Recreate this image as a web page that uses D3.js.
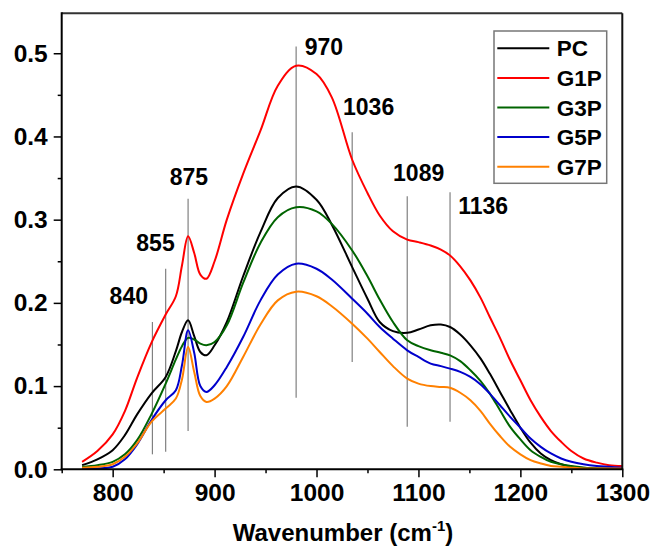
<!DOCTYPE html>
<html>
<head>
<meta charset="utf-8">
<script src="https://cdn.jsdelivr.net/npm/d3@7/dist/d3.min.js"></script>
<style>
  html, body { margin: 0; padding: 0; background: #fff; }
  svg { display: block; }
  text { font-family: "Liberation Sans", Arial, Helvetica, sans-serif; font-weight: bold; fill: #000; }
</style>
</head>
<body>
<svg id="chart" width="652" height="549"></svg>
<script>
// ---- data ----
const wavenumbers = [770, 785, 800, 812, 824, 838, 852, 862, 868, 874, 880, 886, 892, 900, 912, 928, 945, 962, 980,
  1000, 1015, 1035, 1050, 1062, 1075, 1089, 1100, 1112, 1122, 1131, 1141, 1151, 1161, 1170, 1180, 1190, 1200,
  1210, 1220, 1230, 1240, 1250, 1262, 1275, 1287, 1300];

const seriesNames = ["PC", "G1P", "G3P", "G5P", "G7P"];
const seriesColors = ["#000000", "#ff0000", "#006400", "#0000cc", "#ff8000"];

const PC = [0.005, 0.012, 0.023, 0.041, 0.066, 0.091, 0.111, 0.142, 0.165, 0.179, 0.160, 0.141, 0.137, 0.149, 0.177, 0.232, 0.285, 0.326, 0.340,
  0.324, 0.294, 0.243, 0.205, 0.177, 0.166, 0.164, 0.168, 0.173, 0.174, 0.171, 0.162, 0.149, 0.133, 0.115, 0.093, 0.071, 0.050,
  0.032, 0.019, 0.011, 0.006, 0.003, 0.002, 0.001, 0.001, 0.001];
const G1P = [0.009, 0.022, 0.042, 0.070, 0.110, 0.152, 0.186, 0.208, 0.245, 0.280, 0.260, 0.234, 0.229, 0.250, 0.300, 0.355, 0.407, 0.461, 0.485,
  0.475, 0.447, 0.372, 0.332, 0.305, 0.286, 0.276, 0.273, 0.269, 0.264, 0.257, 0.244, 0.227, 0.206, 0.183, 0.158, 0.131, 0.107,
  0.083, 0.063, 0.046, 0.033, 0.022, 0.013, 0.008, 0.005, 0.004];
const G3P = [0.003, 0.005, 0.009, 0.018, 0.035, 0.066, 0.103, 0.132, 0.148, 0.158, 0.156, 0.151, 0.149, 0.153, 0.173, 0.224, 0.272, 0.303, 0.315,
  0.310, 0.295, 0.263, 0.232, 0.204, 0.177, 0.155, 0.148, 0.143, 0.140, 0.137, 0.130, 0.119, 0.106, 0.091, 0.071, 0.051, 0.036,
  0.023, 0.015, 0.009, 0.006, 0.004, 0.002, 0.001, 0.001, 0.001];
const G5P = [0.001, 0.001, 0.003, 0.012, 0.030, 0.059, 0.083, 0.095, 0.125, 0.167, 0.140, 0.100, 0.093, 0.101, 0.123, 0.159, 0.203, 0.234, 0.247,
  0.241, 0.228, 0.205, 0.187, 0.171, 0.157, 0.143, 0.135, 0.127, 0.124, 0.121, 0.117, 0.111, 0.102, 0.091, 0.077, 0.063, 0.050,
  0.037, 0.027, 0.019, 0.013, 0.009, 0.006, 0.004, 0.003, 0.002];
const G7P = [0.002, 0.003, 0.006, 0.015, 0.031, 0.057, 0.073, 0.085, 0.108, 0.147, 0.117, 0.088, 0.081, 0.085, 0.100, 0.135, 0.174, 0.203, 0.2135,
  0.208, 0.196, 0.175, 0.157, 0.141, 0.124, 0.109, 0.103, 0.100, 0.099, 0.098, 0.092, 0.083, 0.070, 0.055, 0.040, 0.027, 0.018,
  0.011, 0.007, 0.004, 0.003, 0.002, 0.001, 0.001, 0.001, 0.001];
const seriesValues = [PC, G1P, G3P, G5P, G7P];

// peak markers
const peakLabels = ["840", "855", "875", "970", "1036", "1089", "1136"];
const peakLineX = [839, 852, 874, 980, 1035, 1089, 1131];
const peakLineTop = [0.177, 0.241, 0.325, 0.508, 0.405, 0.328, 0.333];
const peakLineBottom = [0.018, 0.021, 0.046, 0.086, 0.129, 0.051, 0.057];
const peakLabelX = [797.0, 823.2, 856.0, 988.4, 1026.0, 1075.1, 1139.0];
const peakLabelY = [0.1987, 0.2627, 0.3417, 0.498, 0.4261, 0.3469, 0.3065];

// axes
const xDomain = [750, 1300];
const yDomain = [0, 0.548];
const xMajorTicks = [800, 900, 1000, 1100, 1200, 1300];
const xMinorTicks = [750, 850, 950, 1050, 1150, 1250];
const yMajorTicks = [0.0, 0.1, 0.2, 0.3, 0.4, 0.5];
const yMinorTicks = [0.05, 0.15, 0.25, 0.35, 0.45];
const xTitle = "Wavenumber (cm";
const xTitleSup = "-1";

// ---- drawing ----
const svg = d3.select("#chart");
const L = 61.7, R = 622.3, T = 13.3, B = 469.3;
const x = d3.scaleLinear().domain(xDomain).range([L, R]);
const y = d3.scaleLinear().domain(yDomain).range([B, T]);

// peak marker lines
const pk = svg.append("g");
peakLabels.forEach((lab, i) => {
  pk.append("line")
    .attr("x1", x(peakLineX[i])).attr("x2", x(peakLineX[i]))
    .attr("y1", y(peakLineTop[i])).attr("y2", y(peakLineBottom[i]))
    .attr("stroke", "#808080").attr("stroke-width", 1.2);
});

// curves
const line = d3.line()
  .x((d, i) => x(wavenumbers[i]))
  .y(d => y(d))
  .curve(d3.curveCatmullRom.alpha(0.5));
const curves = svg.append("g");
seriesValues.forEach((vals, k) => {
  curves.append("path")
    .attr("d", line(vals))
    .attr("fill", "none")
    .attr("stroke", seriesColors[k])
    .attr("stroke-width", 2);
});

// peak labels
peakLabels.forEach((lab, i) => {
  pk.append("text")
    .attr("x", x(peakLabelX[i])).attr("y", y(peakLabelY[i]))
    .attr("font-size", 23)
    .text(lab);
});

// frame top/right
svg.append("line").attr("x1", L).attr("x2", R).attr("y1", T).attr("y2", T)
  .attr("stroke", "#333").attr("stroke-width", 2);
svg.append("line").attr("x1", R).attr("x2", R).attr("y1", T).attr("y2", B)
  .attr("stroke", "#111").attr("stroke-width", 2);

// x axis
const gx = svg.append("g").attr("transform", `translate(0,${B})`);
gx.call(d3.axisBottom(x).tickValues(xMajorTicks).tickSize(8).tickPadding(6).tickFormat(d3.format("d")));
const gxm = svg.append("g").attr("transform", `translate(0,${B})`);
gxm.call(d3.axisBottom(x).tickValues(xMinorTicks).tickSize(4).tickFormat(""));
gxm.select(".domain").remove();

// y axis
const gy = svg.append("g").attr("transform", `translate(${L},0)`);
gy.call(d3.axisLeft(y).tickValues(yMajorTicks).tickSize(8).tickPadding(6).tickFormat(d3.format(".1f")));
const gym = svg.append("g").attr("transform", `translate(${L},0)`);
gym.call(d3.axisLeft(y).tickValues(yMinorTicks).tickSize(4).tickFormat(""));
gym.select(".domain").remove();

[gx, gxm, gy, gym].forEach(g => {
  g.selectAll(".domain").attr("stroke", "#000").attr("stroke-width", 2);
  g.selectAll(".tick line").attr("stroke", "#000").attr("stroke-width", 1.5);
  g.selectAll(".tick text")
    .attr("font-family", '"Liberation Sans", Arial, sans-serif')
    .attr("font-weight", "bold").attr("font-size", 24.5).attr("fill", "#000");
});
gx.select(".domain").attr("d", `M${L - 1},0H${R + 1}`);
gy.select(".domain").attr("d", `M0,${B + 1}V${T - 1}`);

// x title
const tt = svg.append("text")
  .attr("x", (L + R) / 2 + 1).attr("y", 541)
  .attr("text-anchor", "middle")
  .attr("font-size", 24);
tt.append("tspan").text(xTitle);
tt.append("tspan").attr("font-size", 15).attr("dy", -10).text(xTitleSup);
tt.append("tspan").attr("dy", 10).text(")");

// legend
const lg = svg.append("g");
lg.append("rect").attr("x", 494).attr("y", 31).attr("width", 112.7).attr("height", 152.3)
  .attr("fill", "#fff").attr("stroke", "#777").attr("stroke-width", 1.5);
seriesNames.forEach((nm, k) => {
  const ry = 48.3 + k * 29.6;
  lg.append("line").attr("x1", 497.3).attr("x2", 549.3).attr("y1", ry).attr("y2", ry)
    .attr("stroke", seriesColors[k]).attr("stroke-width", 2);
  lg.append("text").attr("x", 556.7).attr("y", ry + 8).attr("font-size", 22.5).text(nm);
});
</script>
</body>
</html>
